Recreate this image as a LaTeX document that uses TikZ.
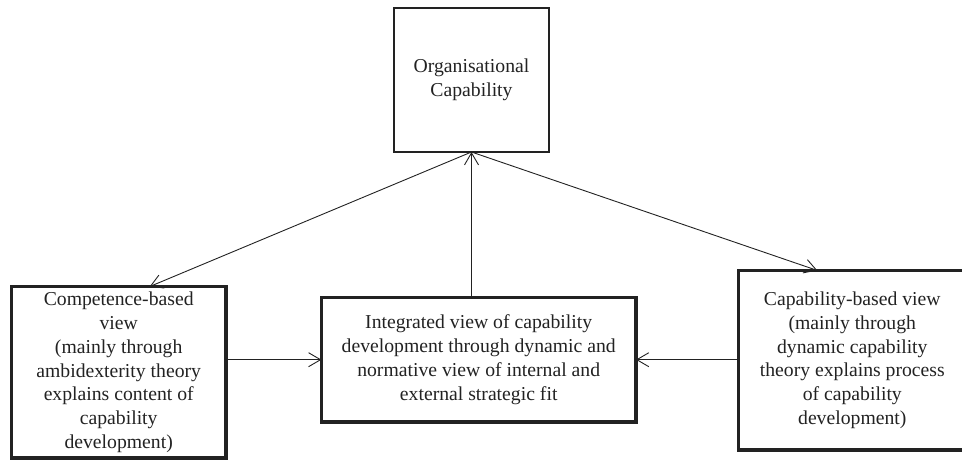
\documentclass[tikz,border=0pt]{standalone}
\usepackage{fontspec}
\setmainfont{Liberation Serif}
\usetikzlibrary{arrows.meta}
\definecolor{ink}{HTML}{222222}
\tikzset{
  box/.style={draw=ink, rectangle, align=center, inner sep=0pt, outer sep=0pt,
    text=ink, font=\fontsize{19.7}{23.8}\selectfont},
  thinbox/.style={box, line width=1.7pt},
  thickbox/.style={box, line width=3.2pt},
  link/.style={draw=ink, line width=0.9pt, -{Straight Barb[length=12pt,width=14pt]}}
}
\begin{document}
\begin{tikzpicture}[x=1pt,y=-1pt]
  \useasboundingbox (0,0) rectangle (962,461);

  % central concept
  \node[thinbox, minimum width=155pt, minimum height=144pt] (org) at (471.5,80)
    {Organisational\\Capability};

  % three views
  \node[thickbox, minimum width=214.5pt, minimum height=171.5pt] (comp) at (118.7,372.3)
    {Competence-based\\view\\(mainly through\\ambidexterity theory\\explains content of\\capability\\development)};
  \node[thickbox, minimum width=314.5pt, minimum height=124.5pt] (integ) at (478.7,359.7)
    {Integrated view of capability\\development through dynamic and\\normative view of internal and\\external strategic fit};
  \node[thickbox, minimum width=227.5pt, minimum height=179.5pt] (capab) at (852.3,360.2)
    {Capability-based view\\(mainly through\\dynamic capability\\theory explains process\\of capability\\development)};

  % connectors
  \draw[link] (integ.north -| org.south) -- (org.south);
  \draw[link] (org.south) -- ([xshift=31pt]comp.north);
  \draw[link] (org.south) -- ([xshift=-35pt]capab.north);
  \draw[link] (comp.east |- integ.west) -- (integ.west);
  \draw[link] (capab.west |- integ.east) -- (integ.east);
\end{tikzpicture}
\end{document}
